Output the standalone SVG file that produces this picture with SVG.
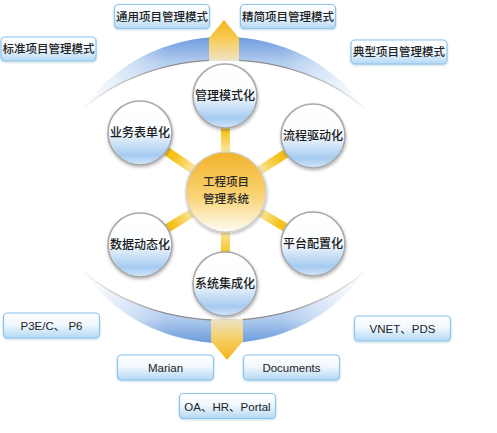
<svg xmlns="http://www.w3.org/2000/svg" width="497" height="433" viewBox="0 0 497 433">
<defs>
<style>
.box rect{fill:url(#boxG);stroke:#8ec5ea;stroke-width:1.2;filter:url(#bsh)}
.box text{font-family:"Liberation Sans","Noto Sans CJK SC",sans-serif;font-size:11.5px;fill:#222;text-anchor:middle}
.cjk{font-weight:500}
.sat circle{fill:url(#satG);stroke:#a9a9a9;stroke-width:1.6;filter:url(#sh)}
.sat text{font-family:"Noto Sans CJK SC",sans-serif;font-size:12px;font-weight:500;fill:#1a1a1a;text-anchor:middle}
.conn line{stroke:url(#connG);stroke-width:9}
</style>
<linearGradient id="boxG" x1="0" y1="0" x2="0" y2="1">
<stop offset="0" stop-color="#ffffff"/><stop offset="0.45" stop-color="#f2f8fe"/><stop offset="1" stop-color="#b3d8f4"/>
</linearGradient>
<linearGradient id="satG" x1="0" y1="0" x2="0" y2="1">
<stop offset="0" stop-color="#ffffff"/><stop offset="0.45" stop-color="#fbfdff"/><stop offset="0.85" stop-color="#a6cbf0"/><stop offset="1" stop-color="#d3e6f8"/>
</linearGradient>
<linearGradient id="cenG" x1="0" y1="0" x2="0" y2="1">
<stop offset="0" stop-color="#f2b22a"/><stop offset="0.55" stop-color="#f9d373"/><stop offset="1" stop-color="#fefcf6"/>
</linearGradient>
<radialGradient id="connG" gradientUnits="userSpaceOnUse" cx="226" cy="192" r="100">
<stop offset="0.38" stop-color="#fbeab0"/><stop offset="0.62" stop-color="#f5c21c"/><stop offset="1" stop-color="#f5c21c"/>
</radialGradient>
<linearGradient id="topArc" gradientUnits="userSpaceOnUse" x1="0" y1="37" x2="0" y2="110">
<stop offset="0" stop-color="#6c9cdc"/><stop offset="0.35" stop-color="#b3cdef"/><stop offset="1" stop-color="#eef4fc"/>
</linearGradient>
<linearGradient id="botArc" gradientUnits="userSpaceOnUse" x1="0" y1="270" x2="0" y2="343">
<stop offset="0" stop-color="#eef4fc"/><stop offset="0.65" stop-color="#b3cdef"/><stop offset="1" stop-color="#6c9cdc"/>
</linearGradient>
<linearGradient id="fadeG" gradientUnits="userSpaceOnUse" x1="80" y1="0" x2="370" y2="0">
<stop offset="0" stop-color="#000"/><stop offset="0.1" stop-color="#666"/><stop offset="0.3" stop-color="#fff"/><stop offset="0.7" stop-color="#fff"/><stop offset="0.9" stop-color="#666"/><stop offset="1" stop-color="#000"/>
</linearGradient>
<mask id="fade" maskUnits="userSpaceOnUse" x="0" y="0" width="497" height="433">
<rect x="0" y="0" width="497" height="433" fill="url(#fadeG)"/>
</mask>
<linearGradient id="upG" x1="0" y1="0" x2="0" y2="1">
<stop offset="0" stop-color="#f4b31a"/><stop offset="0.45" stop-color="#f7cb55"/><stop offset="1" stop-color="#efe4c8"/>
</linearGradient>
<linearGradient id="dnG" x1="0" y1="0" x2="0" y2="1">
<stop offset="0" stop-color="#ece2c8"/><stop offset="0.5" stop-color="#f6cf62"/><stop offset="1" stop-color="#f4b31a"/>
</linearGradient>
<filter id="sh" x="-30%" y="-30%" width="160%" height="160%">
<feDropShadow dx="0.5" dy="1.5" stdDeviation="1.5" flood-color="#000" flood-opacity="0.3"/>
</filter>
<filter id="bsh" x="-10%" y="-30%" width="120%" height="160%">
<feDropShadow dx="0" dy="1" stdDeviation="0.8" flood-color="#5a8fb8" flood-opacity="0.35"/>
</filter>
</defs>
<rect width="497" height="433" fill="#ffffff"/>

<g id="rings">
<g mask="url(#fade)">
<path d="M 83,109 A 166 153 0 0 1 365,109 A 180 130 0 0 0 83,109 Z" fill="url(#topArc)"/>
<path d="M 83,109 A 180 130 0 0 1 365,109" fill="none" stroke="#8d8d8d" stroke-width="1.3"/>
<path d="M 83,271 A 166 153 0 0 0 365,271 A 180 130 0 0 1 83,271 Z" fill="url(#botArc)"/>
<path d="M 83,271 A 180 130 0 0 0 365,271" fill="none" stroke="#8d8d8d" stroke-width="1.3"/>
</g>
<path d="M 209,61 L 209,38 L 224,20 L 239,38 L 239,61 Z" fill="url(#upG)"/>
<path d="M 211,319 L 243,319 L 243,341 L 227,360 L 211,341 Z" fill="url(#dnG)"/>
</g>

<g id="connectors" class="conn">
<line x1="226" y1="192" x2="225" y2="96"/>
<line x1="226" y1="192" x2="140" y2="133"/>
<line x1="226" y1="192" x2="313" y2="136"/>
<line x1="226" y1="192" x2="140" y2="245"/>
<line x1="226" y1="192" x2="313" y2="244"/>
<line x1="226" y1="192" x2="225" y2="284"/>
</g>

<g id="center">
<circle cx="226" cy="192" r="40" fill="url(#cenG)" stroke="#cfcfcf" stroke-width="1.2" filter="url(#sh)"/>
<text x="226" y="186" font-family="Noto Sans CJK SC,sans-serif" font-size="11.5" font-weight="500" fill="#2a2a2a" text-anchor="middle">工程项目</text>
<text x="226" y="203" font-family="Noto Sans CJK SC,sans-serif" font-size="11.5" font-weight="500" fill="#2a2a2a" text-anchor="middle">管理系统</text>
</g>

<g id="n-guanli" class="sat"><circle cx="225" cy="96" r="32"/><text x="225" y="100">管理模式化</text></g>
<g id="n-yewu" class="sat"><circle cx="140" cy="133" r="32"/><text x="140" y="137">业务表单化</text></g>
<g id="n-liucheng" class="sat"><circle cx="313" cy="136" r="32"/><text x="313" y="140">流程驱动化</text></g>
<g id="n-shuju" class="sat"><circle cx="140" cy="245" r="32"/><text x="140" y="249">数据动态化</text></g>
<g id="n-pingtai" class="sat"><circle cx="313" cy="244" r="32"/><text x="313" y="248">平台配置化</text></g>
<g id="n-xitong" class="sat"><circle cx="225" cy="284" r="32"/><text x="225" y="288">系统集成化</text></g>

<g id="b-tongyong" class="box"><rect x="114.5" y="4.5" width="95" height="24" rx="4"/><text class="cjk" x="162" y="20.5">通用项目管理模式</text></g>
<g id="b-jingjian" class="box"><rect x="240.5" y="4.5" width="95" height="24" rx="4"/><text class="cjk" x="288" y="20.5">精简项目管理模式</text></g>
<g id="b-biaozhun" class="box"><rect x="1" y="37" width="95" height="24" rx="4"/><text class="cjk" x="48.5" y="53">标准项目管理模式</text></g>
<g id="b-dianxing" class="box"><rect x="351" y="40" width="96" height="24" rx="4"/><text class="cjk" x="399" y="56">典型项目管理模式</text></g>
<g id="b-p3e" class="box"><rect x="3.5" y="313" width="96" height="25" rx="4"/><text x="51.5" y="330">P3E/C、 P6</text></g>
<g id="b-vnet" class="box"><rect x="354.5" y="316" width="96" height="25" rx="4"/><text x="402.5" y="333">VNET、PDS</text></g>
<g id="b-marian" class="box"><rect x="117.5" y="355" width="96" height="25" rx="4"/><text x="165.5" y="372">Marian</text></g>
<g id="b-documents" class="box"><rect x="243.5" y="355" width="96" height="25" rx="4"/><text x="291.5" y="372">Documents</text></g>
<g id="b-oa" class="box"><rect x="179.5" y="393.5" width="96" height="25" rx="4"/><text x="227.5" y="410.5">OA、HR、Portal</text></g>
</svg>
